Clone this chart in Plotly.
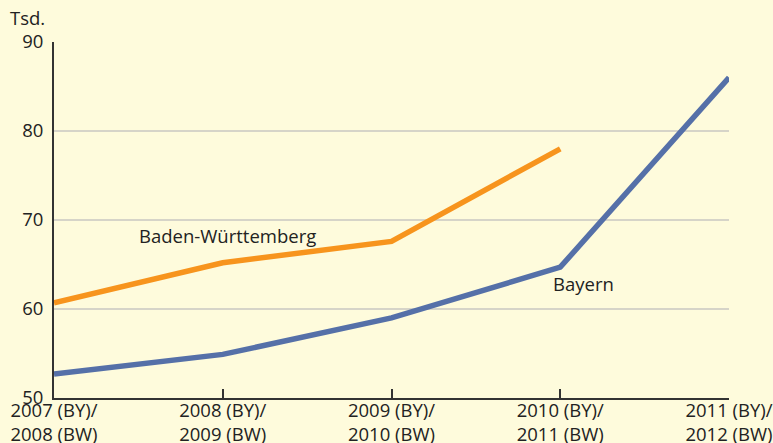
import plotly.graph_objects as go

x_labels = ["2007 (BY)/<br>2008 (BW)", "2008 (BY)/<br>2009 (BW)", "2009 (BY)/<br>2010 (BW)",
            "2010 (BY)/<br>2011 (BW)", "2011 (BY)/<br>2012 (BW)"]
x_pos = [0, 1, 2, 3, 4]
bw_values = [60.7, 65.2, 67.6, 78.0]
by_values = [52.7, 54.9, 59.0, 64.7, 86.0]
y_ticks = [50, 60, 70, 80, 90]

BG = "#fefbdc"
FONT = "Open Sans, Liberation Sans, sans-serif"

fig = go.Figure()
fig.add_trace(go.Scatter(x=x_pos[:len(bw_values)], y=bw_values, mode="lines",
                         line=dict(color="#f7941d", width=5.5), name="Baden-Württemberg"))
fig.add_trace(go.Scatter(x=x_pos, y=by_values, mode="lines",
                         line=dict(color="#5570a8", width=5.5), name="Bayern"))

fig.update_layout(
    width=773, height=443,
    paper_bgcolor=BG, plot_bgcolor=BG,
    margin=dict(l=54, r=44, t=42, b=45),
    showlegend=False,
    font=dict(family=FONT, size=18.5, color="#222222"),
    xaxis=dict(range=[0, 4], tickvals=x_pos, ticktext=x_labels, showgrid=False,
               showline=True, linecolor="#333333", linewidth=2,
               ticks="inside", ticklen=9, tickwidth=2, tickcolor="#333333",
               zeroline=False, fixedrange=True, automargin=False,
               ticklabelstandoff=-5),
    yaxis=dict(range=[50, 90], tickvals=y_ticks, showgrid=True, gridcolor="#d6d4c8",
               gridwidth=1.5, showline=True, linecolor="#333333", linewidth=2,
               ticks="", zeroline=False, ticklabelstandoff=5, automargin=False),
    annotations=[
        dict(text="Tsd.", x=0, y=1, xref="paper", yref="paper", xshift=-46, yshift=10,
             showarrow=False, xanchor="left", yanchor="bottom", font=dict(size=18.5)),
        dict(text="Baden-Württemberg", x=1.03, y=68.3, xref="x", yref="y",
             showarrow=False, xanchor="center", yanchor="middle", font=dict(size=18.5)),
        dict(text="Bayern", x=3.14, y=62.9, xref="x", yref="y",
             showarrow=False, xanchor="center", yanchor="middle", font=dict(size=18.5)),
    ],
)
fig.write_html("out.html", config={"displayModeBar": False},
               post_script="document.body.style.margin='0';document.body.style.background='%s';" % BG)
